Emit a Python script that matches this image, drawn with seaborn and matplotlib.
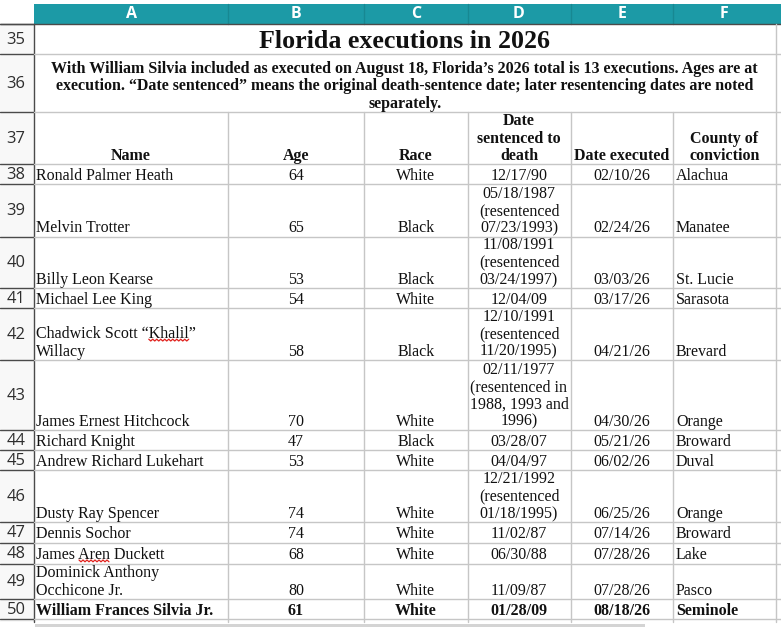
import matplotlib
matplotlib.use("Agg")
import numpy as np
import pandas as pd
import seaborn as sns
from matplotlib import pyplot as plt
from matplotlib.patches import Rectangle

# table content
title = "Florida executions in 2026"
subtitle = [
    "With William Silvia included as executed on August 18, Florida\u2019s 2026 total is 13 executions. Ages are at",
    "execution. \u201cDate sentenced\u201d means the original death-sentence date; later resentencing dates are noted",
    "separately.",
]
col_letters = ["A", "B", "C", "D", "E", "F"]
headers = ["Name", "Age", "Race", "Date\nsentenced to\ndeath", "Date executed", "County of\nconviction"]
row_numbers = list(range(35, 51))

names = [
    "Ronald Palmer Heath", "Melvin Trotter", "Billy Leon Kearse", "Michael Lee King",
    "Chadwick Scott \u201cKhalil\u201d\nWillacy", "James Ernest Hitchcock", "Richard Knight",
    "Andrew Richard Lukehart", "Dusty Ray Spencer", "Dennis Sochor", "James Aren Duckett",
    "Dominick Anthony\nOcchicone Jr.", "William Frances Silvia Jr.",
]
ages = [64, 65, 53, 54, 58, 70, 47, 53, 74, 74, 68, 80, 61]
races = ["White", "Black", "Black", "White", "Black", "White", "Black", "White",
         "White", "White", "White", "White", "White"]
date_sentenced = [
    "12/17/90", "05/18/1987\n(resentenced\n07/23/1993)", "11/08/1991\n(resentenced\n03/24/1997)",
    "12/04/09", "12/10/1991\n(resentenced\n11/20/1995)",
    "02/11/1977\n(resentenced in\n1988, 1993 and\n1996)", "03/28/07", "04/04/97",
    "12/21/1992\n(resentenced\n01/18/1995)", "11/02/87", "06/30/88", "11/09/87", "01/28/09",
]
date_executed = ["02/10/26", "02/24/26", "03/03/26", "03/17/26", "04/21/26", "04/30/26", "05/21/26",
                 "06/02/26", "06/25/26", "07/14/26", "07/28/26", "07/28/26", "08/18/26"]
counties = ["Alachua", "Manatee", "St. Lucie", "Sarasota", "Brevard", "Orange", "Broward",
            "Duval", "Orange", "Broward", "Lake", "Pasco", "Seminole"]
misspelled = {4: "Khalil", 10: "Aren"}

df = pd.DataFrame({
    "Name": names, "Age": ages, "Race": races, "Sentenced": date_sentenced,
    "Executed": date_executed, "County": counties,
})

# sheet layout in pixels
col_edges = [34, 228, 364, 467.5, 570.5, 673, 775.5]
row_edges = [24, 54, 112, 164.3, 184.3, 236.5, 288.3, 308.3, 360, 430, 450, 470,
             522.3, 542.5, 563.5, 599, 619]
line_h = 17.3
pad_bottom = 4.3
teal = "#1c9aa6"
grid_c = "#c6c6c6"
hdr_line = "#4a4a4a"
ink = "#111111"

sns.set_theme(style="white")
plt.rcParams["font.family"] = ["Liberation Serif", "DejaVu Serif"]

W, H = 781, 627
fig = plt.figure(figsize=(W / 100, H / 100), dpi=100)
ax = fig.add_axes([0, 0, 1, 1])
ax.set_xlim(0, W)
ax.set_ylim(H, 0)
ax.axis("off")

PX = 0.72  # pixels to points at dpi 100
fs = 16 * PX
sans = ["Open Sans", "DejaVu Sans"]


def put(x, bottom, text, ha, bold=False):
    lines = text.split("\n")
    objs = []
    for k, line in enumerate(lines):
        y = bottom - pad_bottom - (len(lines) - 1 - k) * line_h
        objs.append(ax.text(x, y, line, ha=ha, va="baseline", fontsize=fs,
                            fontweight="bold" if bold else "normal", color=ink))
    return objs


# column header band
ax.add_patch(Rectangle((col_edges[0], 4), col_edges[-1] - col_edges[0] + 6, 20, color=teal, lw=0))
for x in col_edges[1:-1]:
    ax.plot([x, x], [4, 24], color="#178892", lw=1)
for i, letter in enumerate(col_letters):
    ax.text((col_edges[i] + col_edges[i + 1]) / 2, 14.5, letter, ha="center", va="center",
            color="white", fontsize=16 * PX, fontweight="bold", family=sans)

# row header
ax.add_patch(Rectangle((0, 24), col_edges[0], row_edges[-1] - 24 + 3, color="#f8f8f8", lw=0))
for j, num in enumerate(row_numbers):
    ax.text(col_edges[0] / 2 - 1, (row_edges[j] + row_edges[j + 1]) / 2 + 1, str(num), ha="center",
            va="center", color="#2e2e2e", fontsize=16.5 * PX, family=sans)
for y in row_edges:
    ax.plot([0, col_edges[0]], [y, y], color=hdr_line, lw=1)
ax.plot([0, W], [24, 24], color=hdr_line, lw=1)
ax.plot([col_edges[0], col_edges[0]], [24, row_edges[-1] + 3], color=hdr_line, lw=1)

# grid
for y in row_edges[1:]:
    ax.plot([col_edges[0], W], [y, y], color=grid_c, lw=1)
for x in col_edges[1:-1]:
    ax.plot([x, x], [row_edges[2], row_edges[-1] + 3], color=grid_c, lw=1)
ax.plot([col_edges[-1]] * 2, [24, row_edges[-1] + 3], color=grid_c, lw=1)

# scrollbar hint at the bottom
ax.add_patch(Rectangle((35, 624), 610, 2.5, color="#d4d4d4", lw=0))

# title and note
mid = (col_edges[0] + col_edges[-1]) / 2
ax.text(mid, 47.5, title, ha="center", va="baseline", fontsize=26 * PX, fontweight="bold", color=ink)
for k, line in enumerate(subtitle):
    ax.text(mid, row_edges[2] - pad_bottom - (len(subtitle) - 1 - k) * line_h, line,
            ha="center", va="baseline", fontsize=fs, fontweight="bold", color=ink)

# column headings
for i, h in enumerate(headers):
    put((col_edges[i] + col_edges[i + 1]) / 2, row_edges[3], h, "center", bold=True)

# data rows
fig.canvas.draw()
renderer = fig.canvas.get_renderer()
for r, row in df.iterrows():
    bottom = row_edges[r + 4]
    bold = r == len(df) - 1
    name_objs = put(col_edges[0] + 2, bottom, row["Name"], "left", bold)
    put((col_edges[1] + col_edges[2]) / 2, bottom, str(row["Age"]), "center", bold)
    put((col_edges[2] + col_edges[3]) / 2, bottom, row["Race"], "center", bold)
    put((col_edges[3] + col_edges[4]) / 2, bottom, row["Sentenced"], "center", bold)
    put((col_edges[4] + col_edges[5]) / 2, bottom, row["Executed"], "center", bold)
    put(col_edges[5] + 3, bottom, row["County"], "left", bold)

    # spell-check squiggle under the flagged word
    if r in misspelled:
        word = misspelled[r]
        for t in name_objs:
            s = t.get_text()
            if word not in s:
                continue
            prefix = s[: s.index(word)]
            x0, y0 = t.get_position()
            tmp = ax.text(x0, y0, prefix, fontsize=fs, va="baseline")
            tmp2 = ax.text(x0, y0, prefix + word, fontsize=fs, va="baseline")
            inv = ax.transData.inverted()
            xa = inv.transform((tmp.get_window_extent(renderer).x1, 0))[0] if prefix else x0
            xb = inv.transform((tmp2.get_window_extent(renderer).x1, 0))[0]
            tmp.remove()
            tmp2.remove()
            xs = np.arange(xa, xb + 0.1, 2.0)
            ys = y0 + 0.8 + np.where(np.arange(len(xs)) % 2 == 0, 0, 1.8)
            ax.plot(xs, ys, color="#e0201c", lw=0.9)

fig.savefig("out.png", dpi=100)
